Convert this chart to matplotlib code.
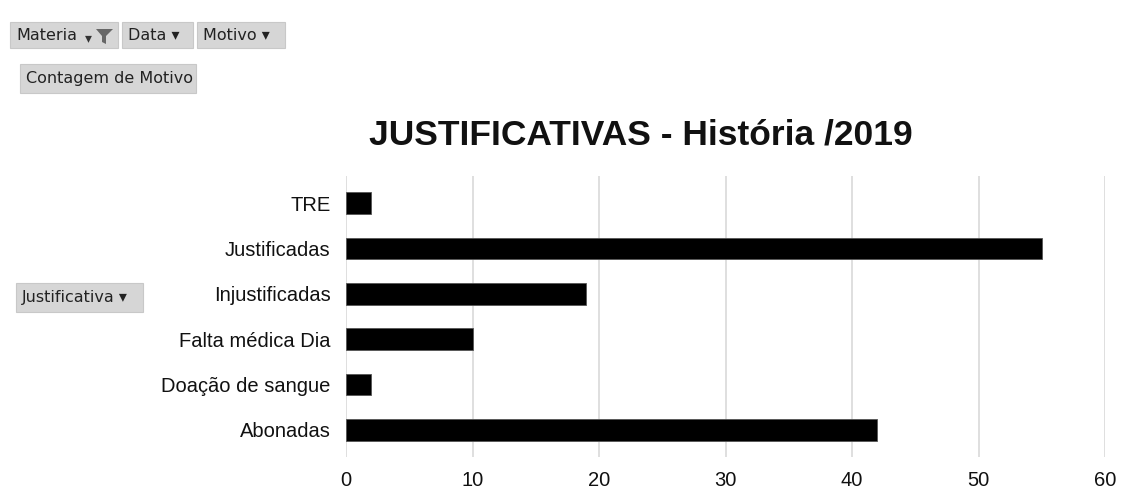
import matplotlib.pyplot as plt
from matplotlib.patches import Rectangle, Polygon

# Contagem de motivos por justificativa
categorias = ["Abonadas", "Doação de sangue", "Falta médica Dia",
              "Injustificadas", "Justificadas", "TRE"]
contagem = [42, 2, 10, 19, 55, 2]
ticks_x = [0, 10, 20, 30, 40, 50, 60]

W, H = 1131, 492
fig = plt.figure(figsize=(W / 100, H / 100), dpi=100)
fig.patch.set_facecolor("white")

ax = fig.add_axes([346 / W, 1 - 457 / H, (1105 - 346) / W, (457 - 176) / H])
ax.barh(range(len(categorias)), contagem, height=0.48, color="black",
        edgecolor="#555555", linewidth=0.6, zorder=3)
ax.set_yticks(range(len(categorias)))
ax.set_yticklabels(categorias)
ax.set_xticks(ticks_x)
ax.set_xlim(0, 60)
ax.set_ylim(-0.6, 5.6)
ax.grid(axis="x", color="#d9d9d9", linewidth=1.2, zorder=0)
ax.tick_params(length=0, labelsize=14.5, pad=11, labelcolor="#111111")
ax.tick_params(axis="x", pad=10)
for s in ax.spines.values():
    s.set_visible(False)
for lbl in ax.get_xticklabels() + ax.get_yticklabels():
    lbl.set_family("Liberation Sans")

fig.text(641 / W, 1 - 135 / H, "JUSTIFICATIVAS - História /2019",
         ha="center", va="center", fontsize=25.5, fontweight="bold",
         family="Liberation Sans", color="#111111")


# botões da tabela dinâmica
def botao(x0, y0, x1, y1, texto):
    fig.patches.append(Rectangle((x0 / W, 1 - y1 / H), (x1 - x0) / W,
                                 (y1 - y0) / H, transform=fig.transFigure,
                                 facecolor="#d6d6d6", edgecolor="#c8c8c8",
                                 linewidth=0.8))
    fig.text((x0 + 6) / W, 1 - (y0 + y1) / 2 / H, texto, ha="left",
             va="center", fontsize=11.5, color="#222222", family="DejaVu Sans")


botao(10, 22, 118, 48, "Materia")
botao(122, 22, 193, 48, "Data ▾")
botao(197, 22, 285, 48, "Motivo ▾")
botao(20, 64, 196, 93, "Contagem de Motivo")
botao(16, 283, 143, 312, "Justificativa ▾")

# seta e ícone de filtro do campo Materia
fig.text(88 / W, 1 - 38 / H, "▾", ha="center", va="center", fontsize=10,
         color="#333333")
fig.patches.append(Polygon([(96 / W, 1 - 29 / H), (113 / W, 1 - 29 / H),
                            (106 / W, 1 - 36 / H), (106 / W, 1 - 44 / H),
                            (102 / W, 1 - 42 / H), (102 / W, 1 - 36 / H)],
                           closed=True, transform=fig.transFigure,
                           facecolor="#666666", edgecolor="none"))

fig.savefig("out.png", dpi=100)
